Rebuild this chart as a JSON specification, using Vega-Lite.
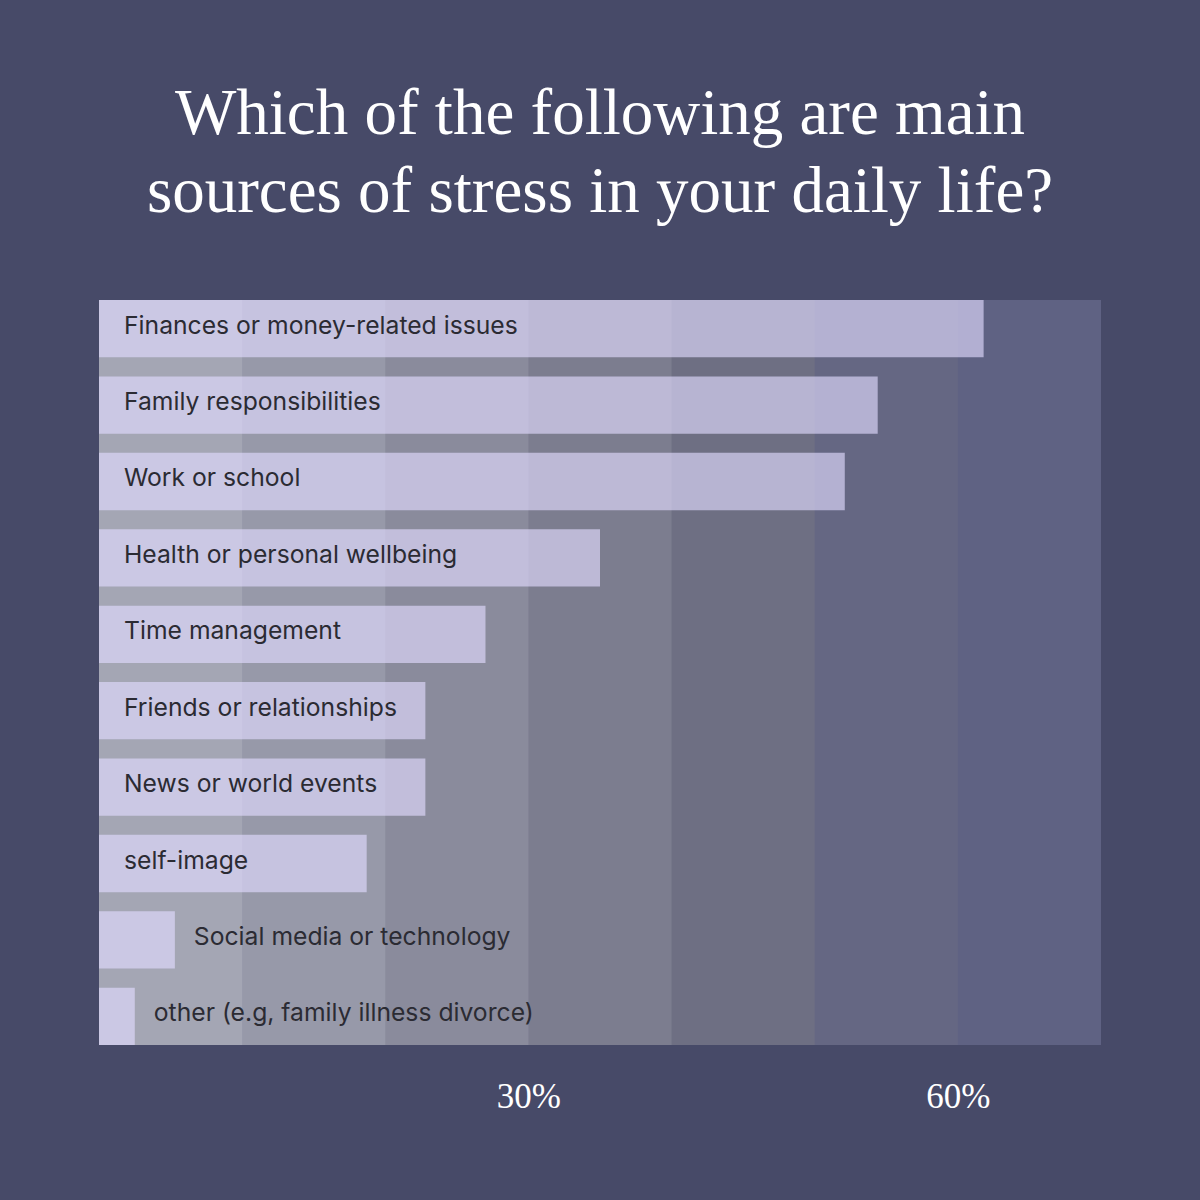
{
  "$schema": "https://vega.github.io/schema/vega-lite/v6.json",
  "width": 1002,
  "height": 745,
  "autosize": "none",
  "padding": {"left": 99, "top": 300, "right": 99, "bottom": 155},
  "background": "#474a68",
  "title": {
    "text": ["Which of the following are main", "sources of stress in your daily life?"],
    "font": "Liberation Serif",
    "fontSize": 65,
    "fontWeight": "normal",
    "color": "#ffffff",
    "lineHeight": 78,
    "anchor": "middle",
    "offset": 74
  },
  "config": {"view": {"stroke": null}},
  "datasets": {
    "bands": [
      {"start": 0, "band": "b0"},
      {"start": 10, "band": "b1"},
      {"start": 20, "band": "b2"},
      {"start": 30, "band": "b3"},
      {"start": 40, "band": "b4"},
      {"start": 50, "band": "b5"},
      {"start": 60, "band": "b6"}
    ],
    "sources": [
      {"source": "Finances or money-related issues", "value": 61.8},
      {"source": "Family responsibilities", "value": 54.4},
      {"source": "Work or school", "value": 52.1},
      {"source": "Health or personal wellbeing", "value": 35},
      {"source": "Time management", "value": 27},
      {"source": "Friends or relationships", "value": 22.8},
      {"source": "News or world events", "value": 22.8},
      {"source": "self-image", "value": 18.7},
      {"source": "Social media or technology", "value": 5.3},
      {"source": "other (e.g, family illness divorce)", "value": 2.5}
    ]
  },
  "layer": [
    {
      "data": {"name": "bands"},
      "mark": {"type": "rect"},
      "encoding": {
        "x": {
          "field": "start",
          "type": "quantitative",
          "scale": {"domain": [0, 70], "nice": false},
          "axis": {
            "values": [30, 60],
            "labelExpr": "datum.value + '%'",
            "labelFont": "Liberation Serif",
            "labelFontSize": 35,
            "labelColor": "#ffffff",
            "labelPadding": 34,
            "ticks": false,
            "domain": false,
            "grid": false,
            "title": null
          }
        },
        "x2": {"datum": 70},
        "color": {
          "field": "band",
          "type": "nominal",
          "scale": {"range": ["#a4a6b4", "#9799a9", "#8a8b9c", "#7c7d8f", "#6e6f83", "#656783", "#5f6283"]},
          "legend": null
        }
      }
    },
    {
      "data": {"name": "sources"},
      "mark": {"type": "bar", "fill": "#e2dbff", "opacity": 0.64},
      "encoding": {
        "y": {"field": "source", "type": "nominal", "sort": null, "axis": null, "scale": {"paddingInner": 0.25, "paddingOuter": 0}},
        "x": {"field": "value", "type": "quantitative"}
      }
    },
    {
      "data": {"name": "sources"},
      "transform": [{"filter": "datum.value >= 10"}],
      "mark": {"type": "text", "align": "left", "baseline": "middle", "dx": 25, "dy": -2, "font": "Inter", "fontSize": 24.7, "color": "#2b2b33"},
      "encoding": {
        "y": {"field": "source", "type": "nominal", "sort": null},
        "x": {"datum": 0},
        "text": {"field": "source"}
      }
    },
    {
      "data": {"name": "sources"},
      "transform": [{"filter": "datum.value < 10"}],
      "mark": {"type": "text", "align": "left", "baseline": "middle", "dx": 19, "dy": -2, "font": "Inter", "fontSize": 24.7, "color": "#2b2b33"},
      "encoding": {
        "y": {"field": "source", "type": "nominal", "sort": null},
        "x": {"field": "value", "type": "quantitative"},
        "text": {"field": "source"}
      }
    }
  ]
}
